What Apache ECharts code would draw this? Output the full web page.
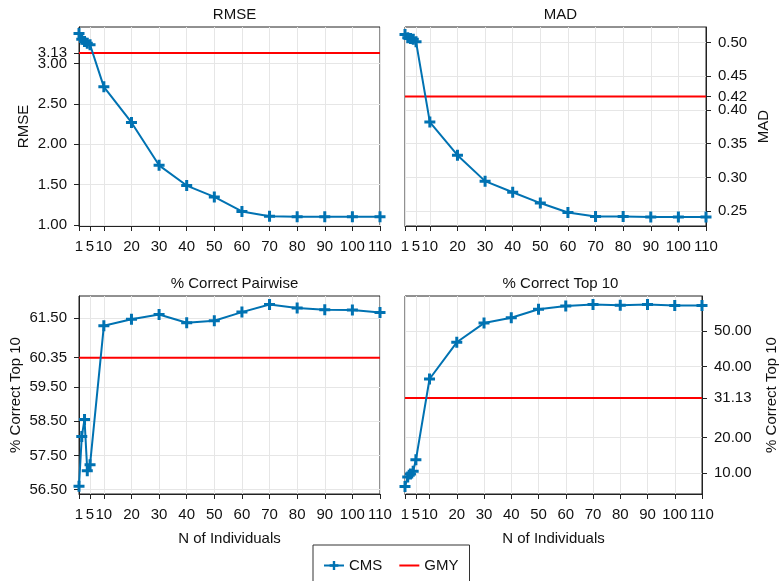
<!DOCTYPE html>
<html>
<head>
<meta charset="utf-8">
<script src="https://cdn.jsdelivr.net/npm/echarts@6/dist/echarts.min.js"></script>
<style>
  html, body { margin: 0; padding: 0; background: #fff; }
  #chart { width: 780px; height: 581px; }
</style>
</head>
<body>
<div id="chart"></div>
<script>
// N of individuals and the x tick marks
const xValues = [1, 2, 3, 4, 5, 10, 20, 30, 40, 50, 60, 70, 80, 90, 100, 110];
const xTicks = [1, 5, 10, 20, 30, 40, 50, 60, 70, 80, 90, 100, 110];
const xRange = [1, 110];

// CMS curves, one per panel
const rmse = [3.37, 3.30, 3.27, 3.25, 3.23, 2.71, 2.27, 1.74, 1.49, 1.35, 1.17, 1.11, 1.105, 1.105, 1.105, 1.105];
const mad = [0.512, 0.507, 0.506, 0.505, 0.501, 0.382, 0.333, 0.2945, 0.278, 0.262, 0.248, 0.242, 0.242, 0.2415, 0.2415, 0.2415];
const pairwise = [56.6, 58.05, 58.55, 57.05, 57.23, 61.28, 61.47, 61.61, 61.37, 61.43, 61.68, 61.90, 61.80, 61.75, 61.74, 61.67];
const top10 = [6.3, 9.0, 9.8, 10.6, 13.8, 36.5, 46.8, 52.2, 53.7, 56.1, 57.0, 57.4, 57.2, 57.4, 57.1, 57.1];

// GMY reference level for each panel
const gmy = [3.13, 0.42, 60.35, 31.13];

// y tick marks
const rmseTicks = [1.0, 1.5, 2.0, 2.5, 3.0, 3.13];
const madTicks = [0.25, 0.30, 0.35, 0.40, 0.42, 0.45, 0.50];
const pairwiseTicks = [56.5, 57.5, 58.5, 59.5, 60.35, 61.5];
const top10Ticks = [10, 20, 31.13, 40, 50];

const titles = ['RMSE', 'MAD', '% Correct Pairwise', '% Correct Top 10'];
const yNames = ['RMSE', 'MAD', '% Correct Top 10', '% Correct Top 10'];

const FONT = 'Liberation Sans';
const BLUE = '#0072B2';
const PLUS = 'path://M4,0H7V4H11V7H7V11H4V7H0V4H4Z';
const DASH = 'path://M0,0H20V2H0Z';

const panels = [
  { left: 79, top: 27, height: 199, side: 'left', min: 0.99, max: 3.45, ticks: rmseTicks, vals: rmse, gap: 48, xName: '' },
  { left: 405, top: 27, height: 199, side: 'right', min: 0.228, max: 0.523, ticks: madTicks, vals: mad, gap: 50, xName: '' },
  { left: 79, top: 296, height: 198, side: 'left', min: 56.375, max: 62.15, ticks: pairwiseTicks, vals: pairwise, gap: 56, xName: 'N of Individuals' },
  { left: 405, top: 296, height: 198, side: 'right', min: 4.2, max: 59.8, ticks: top10Ticks, vals: top10, gap: 62, xName: 'N of Individuals' }
];

const grid = [], xAxis = [], yAxis = [], title = [], series = [];

panels.forEach((p, i) => {
  grid.push({
    left: p.left, top: p.top, width: 301, height: p.height,
    show: true, borderColor: '#222', borderWidth: 1, backgroundColor: 'transparent'
  });
  title.push({
    text: titles[i],
    left: p.left + 150.5,
    textAlign: 'center',
    top: p.top - 25,
    textStyle: { fontFamily: FONT, fontSize: 15, fontWeight: 'normal', color: '#111' }
  });
  xAxis.push({
    type: 'value', gridIndex: i, min: xRange[0], max: xRange[1],
    name: p.xName, nameLocation: 'middle', nameGap: 37,
    nameTextStyle: { fontFamily: FONT, fontSize: 15, color: '#111' },
    axisLine: { lineStyle: { color: '#222' } },
    axisTick: { length: 5, customValues: xTicks, lineStyle: { color: '#222' } },
    axisLabel: {
      customValues: xTicks, margin: 13, hideOverlap: false,
      showMinLabel: true, showMaxLabel: true,
      fontFamily: FONT, fontSize: 15, color: '#111'
    },
    splitLine: { show: true, lineStyle: { color: '#e6e6e6' } }
  });
  // an empty label at the axis top keeps ECharts from dropping the close 3.00 / 3.13 pair
  yAxis.push({
    type: 'value', gridIndex: i, position: p.side, min: p.min, max: p.max,
    name: yNames[i], nameLocation: 'middle', nameGap: p.gap, nameRotate: 90,
    nameTextStyle: { fontFamily: FONT, fontSize: 15, color: '#111' },
    axisLine: { show: true, lineStyle: { color: '#222' } },
    axisTick: { show: true, length: 5, customValues: p.ticks, lineStyle: { color: '#222' } },
    axisLabel: {
      customValues: p.ticks.concat([p.max]), margin: 12, hideOverlap: false,
      fontFamily: FONT, fontSize: 15, color: '#111',
      formatter: v => (v === p.max ? '' : Number(v).toFixed(2))
    },
    splitLine: { show: true, lineStyle: { color: '#e6e6e6' } }
  });
  series.push({
    name: 'CMS', type: 'line', xAxisIndex: i, yAxisIndex: i,
    data: xValues.map((x, j) => [x, p.vals[j]]),
    symbol: PLUS, symbolSize: 11,
    color: BLUE, lineStyle: { width: 2, color: BLUE },
    itemStyle: { color: BLUE }, z: 3
  });
  series.push({
    name: 'GMY', type: 'line', xAxisIndex: i, yAxisIndex: i,
    data: [[xRange[0], gmy[i]], [xRange[1], gmy[i]]],
    symbol: 'none', showSymbol: false,
    color: 'red', lineStyle: { width: 2, color: 'red' }, z: 2
  });
});

const chart = echarts.init(document.getElementById('chart'));
chart.setOption({
  animation: false,
  backgroundColor: '#fff',
  title,
  grid,
  xAxis,
  yAxis,
  legend: {
    data: ['CMS', { name: 'GMY', icon: DASH, itemStyle: { color: 'red' } }],
    left: 313, top: 545,
    padding: [13, 11, 20, 10],
    itemWidth: 20, itemHeight: 11, itemGap: 17,
    borderColor: '#333', borderWidth: 1,
    textStyle: { fontFamily: FONT, fontSize: 15, color: '#111' }
  },
  series
});
</script>
</body>
</html>
